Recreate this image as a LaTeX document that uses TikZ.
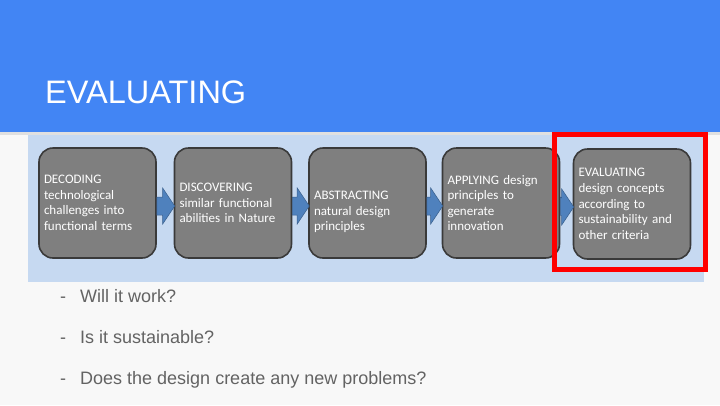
\documentclass[tikz,border=0pt]{standalone}
\usepackage{fontspec}
\setmainfont{Liberation Sans}
\newfontfamily\boxfont{Carlito}
\usetikzlibrary{calc}
\definecolor{hdrblue}{HTML}{4285F4}
\definecolor{slidebg}{HTML}{F8F8F8}
\definecolor{panelblue}{HTML}{C6D9F1}
\definecolor{boxgray}{HTML}{7F7F7F}
\definecolor{boxedge}{HTML}{3A3A3A}
\definecolor{arrowblue}{HTML}{4F81BD}
\definecolor{bullgray}{HTML}{636363}
\tikzset{
  stepbox/.style={rounded corners=14pt, fill=boxgray, draw=boxedge, line width=1.6pt,
    minimum width=117pt, minimum height=110pt, text width=107pt, inner sep=5pt,
    align=left, text=white, font=\boxfont\fontsize{13}{15.6}\selectfont},
  blockarrow/.style={fill=arrowblue, draw=arrowblue!75!black, line width=0.5pt},
  bullettext/.style={anchor=base west, text=bullgray, font=\fontsize{18}{21}\selectfont, inner sep=0pt},
}
\begin{document}
\begin{tikzpicture}[x=1pt,y=-1pt]
\useasboundingbox (0,0) rectangle (720,405);
\fill[slidebg] (0,0) rectangle (720,405);
\fill[hdrblue] (0,0) rectangle (720,132);
\fill[black!12] (0,132) rectangle (720,135);
\node[anchor=base west, text=white, font=\fontsize{32.5}{38}\selectfont, inner sep=0pt] (title) at (45,103) {EVALUATING};
% panel
\fill[panelblue] (28,135) rectangle (704,282);
% boxes
\node[stepbox] (b1) at (97.5,203) {DECODING\\technological\\challenges into\\functional terms};
\node[stepbox] (b2) at (233,203) {DISCOVERING\\similar functional\\abilities in Nature};
\node[stepbox] (b3) at (367.5,203) {\strut\\ABSTRACTING\\natural design\\principles};
\node[stepbox] (b4) at (501,203) {APPLYING design\\principles to\\generate\\innovation};
\node[stepbox] (b5) at (632,204) {EVALUATING\\design concepts\\according to\\sustainability and\\other criteria};
% arrows
\foreach \a/\b in {b1/b2,b2/b3,b3/b4,b4/b5}{
  \filldraw[blockarrow] ($(\a.east)+(0,-6)$) -- ($(\b.west)+(-11,-6)$) -- ($(\b.west)+(-11,-15)$)
     -- ($(\b.west)+(1,3)$) -- ($(\b.west)+(-11,21)$) -- ($(\b.west)+(-11,12)$) -- ($(\a.east)+(0,12)$) -- cycle;
}
% red highlight
\draw[red, line width=5pt] (554.5,134.5) rectangle (705.5,269.5);
% bullets
\node[bullettext] (d1) at (60,302) {-};
\node[bullettext] (t1) at (80,302) {Will it work?};
\node[bullettext] (d2) at (60,343) {-};
\node[bullettext] (t2) at (80,343) {Is it sustainable?};
\node[bullettext] (d3) at (60,384) {-};
\node[bullettext] (t3) at (80,384) {Does the design create any new problems?};
\end{tikzpicture}
\end{document}
